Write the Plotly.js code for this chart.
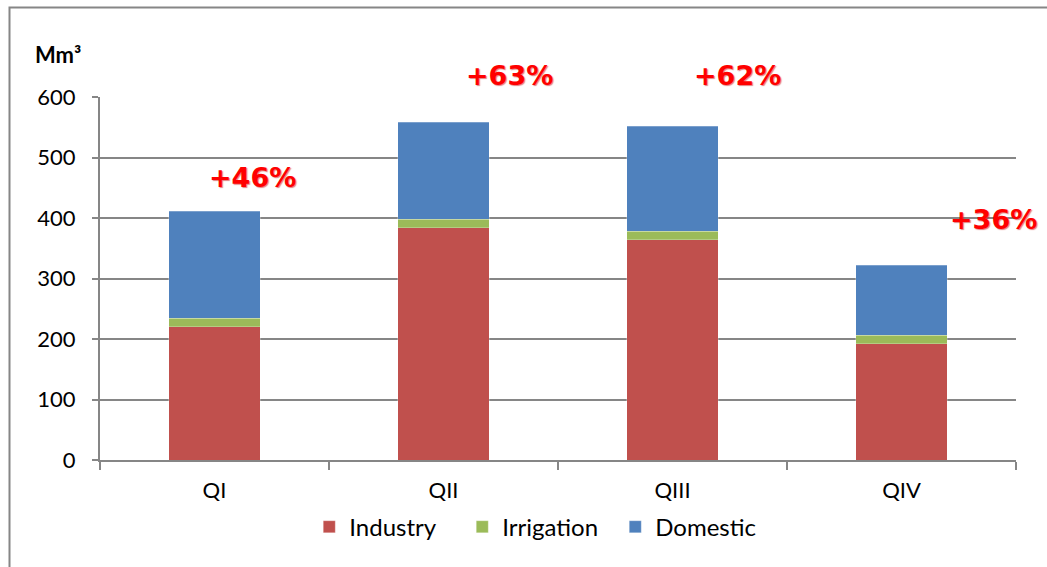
<!DOCTYPE html>
<html>
<head>
<meta charset="utf-8">
<script src="https://cdn.plot.ly/plotly-3.0.1.min.js"></script>
<style>html,body{margin:0;padding:0;background:#fff;}#chart{width:1047px;height:567px;}</style>
</head>
<body>
<div id="chart"></div>
<script>
const quarters = ["QI", "QII", "QIII", "QIV"];
const industry = [220, 384, 364, 192];
const irrigation = [14, 14, 14, 14];
const domestic = [177, 160, 174, 116];
const changeLabels = ["+46%", "+63%", "+62%", "+36%"];
const yTicks = [0, 100, 200, 300, 400, 500, 600];

const font = {family: "Lato, 'Open Sans', sans-serif", size: 22, color: "#000"};
const legendFont = {family: "Lato, 'Open Sans', sans-serif", size: 24, color: "#000"};
const lineCol = "#868686";

const traces = [
  {type: "bar", name: "Industry", x: quarters, y: industry, marker: {color: "#C0504D", line: {color: "rgba(255,255,255,0.5)", width: 0.5}}},
  {type: "bar", name: "Irrigation", x: quarters, y: irrigation, marker: {color: "#9BBB59", line: {color: "rgba(255,255,255,0.5)", width: 0.5}}},
  {type: "bar", name: "Domestic", x: quarters, y: domestic, marker: {color: "#4F81BD", line: {color: "rgba(255,255,255,0.5)", width: 0.5}}}
];

// label positions in pixels (center x, center y) converted to paper coords
const annPx = [[252, 177], [509, 75], [737, 75], [993, 219]];
const annotations = changeLabels.map((t, i) => ({
  xref: "paper", yref: "paper",
  x: (annPx[i][0] - 100) / 916, y: (460 - annPx[i][1]) / 363,
  xanchor: "center", yanchor: "middle",
  text: "<b>" + t + "</b>", showarrow: false,
  font: {family: "'DejaVu Sans', sans-serif", size: 27, color: "#FF0000", shadow: "1px 1px 1px rgba(200,0,0,0.5)"}
}));
annotations.push({
  xref: "paper", yref: "paper", x: (58 - 100) / 916, y: 1 + (97 - 55) / 363,
  text: "<b>Mm³</b>", showarrow: false, xanchor: "center", yanchor: "middle",
  font: {family: "Lato, sans-serif", size: 22, color: "#000"}
});

const layout = {
  width: 1047, height: 567,
  margin: {l: 100, r: 31, t: 97, b: 107},
  paper_bgcolor: "#fff", plot_bgcolor: "#fff",
  barmode: "stack", bargap: 0.6,
  font: font,
  showlegend: true,
  legend: {orientation: "h", x: 0.479, xanchor: "center", y: -0.185, yanchor: "middle",
           font: legendFont, itemwidth: 30, traceorder: "normal",
           entrywidth: 108, entrywidthmode: "pixels"},
  xaxis: {
    type: "category", range: [-0.5, 3.5], showgrid: false,
    showline: true, linecolor: lineCol, linewidth: 2,
    ticks: "outside", tickson: "boundaries", ticklen: 8, tickcolor: lineCol, tickwidth: 2,
    ticklabelstandoff: 10,
    tickfont: font, fixedrange: true
  },
  yaxis: {
    range: [0, 600], tickvals: yTicks, ticktext: yTicks.map(String),
    showgrid: true, gridcolor: lineCol, gridwidth: 2,
    showline: true, linecolor: lineCol, linewidth: 2,
    ticks: "outside", ticklen: 6, tickcolor: lineCol, tickwidth: 2,
    ticklabelstandoff: 12,
    tickfont: font, zeroline: false, fixedrange: true
  },
  annotations: annotations,
  shapes: [{
    type: "rect", xref: "paper", yref: "paper",
    x0: (9.5 - 100) / 916, x1: (1060 - 100) / 916,
    y0: (460 - 580) / 363, y1: 1 + (97 - 7.5) / 363,
    line: {color: lineCol, width: 2}, fillcolor: "rgba(0,0,0,0)", layer: "below"
  }]
};

Plotly.newPlot("chart", traces, layout, {displayModeBar: false, staticPlot: true});
</script>
</body>
</html>
